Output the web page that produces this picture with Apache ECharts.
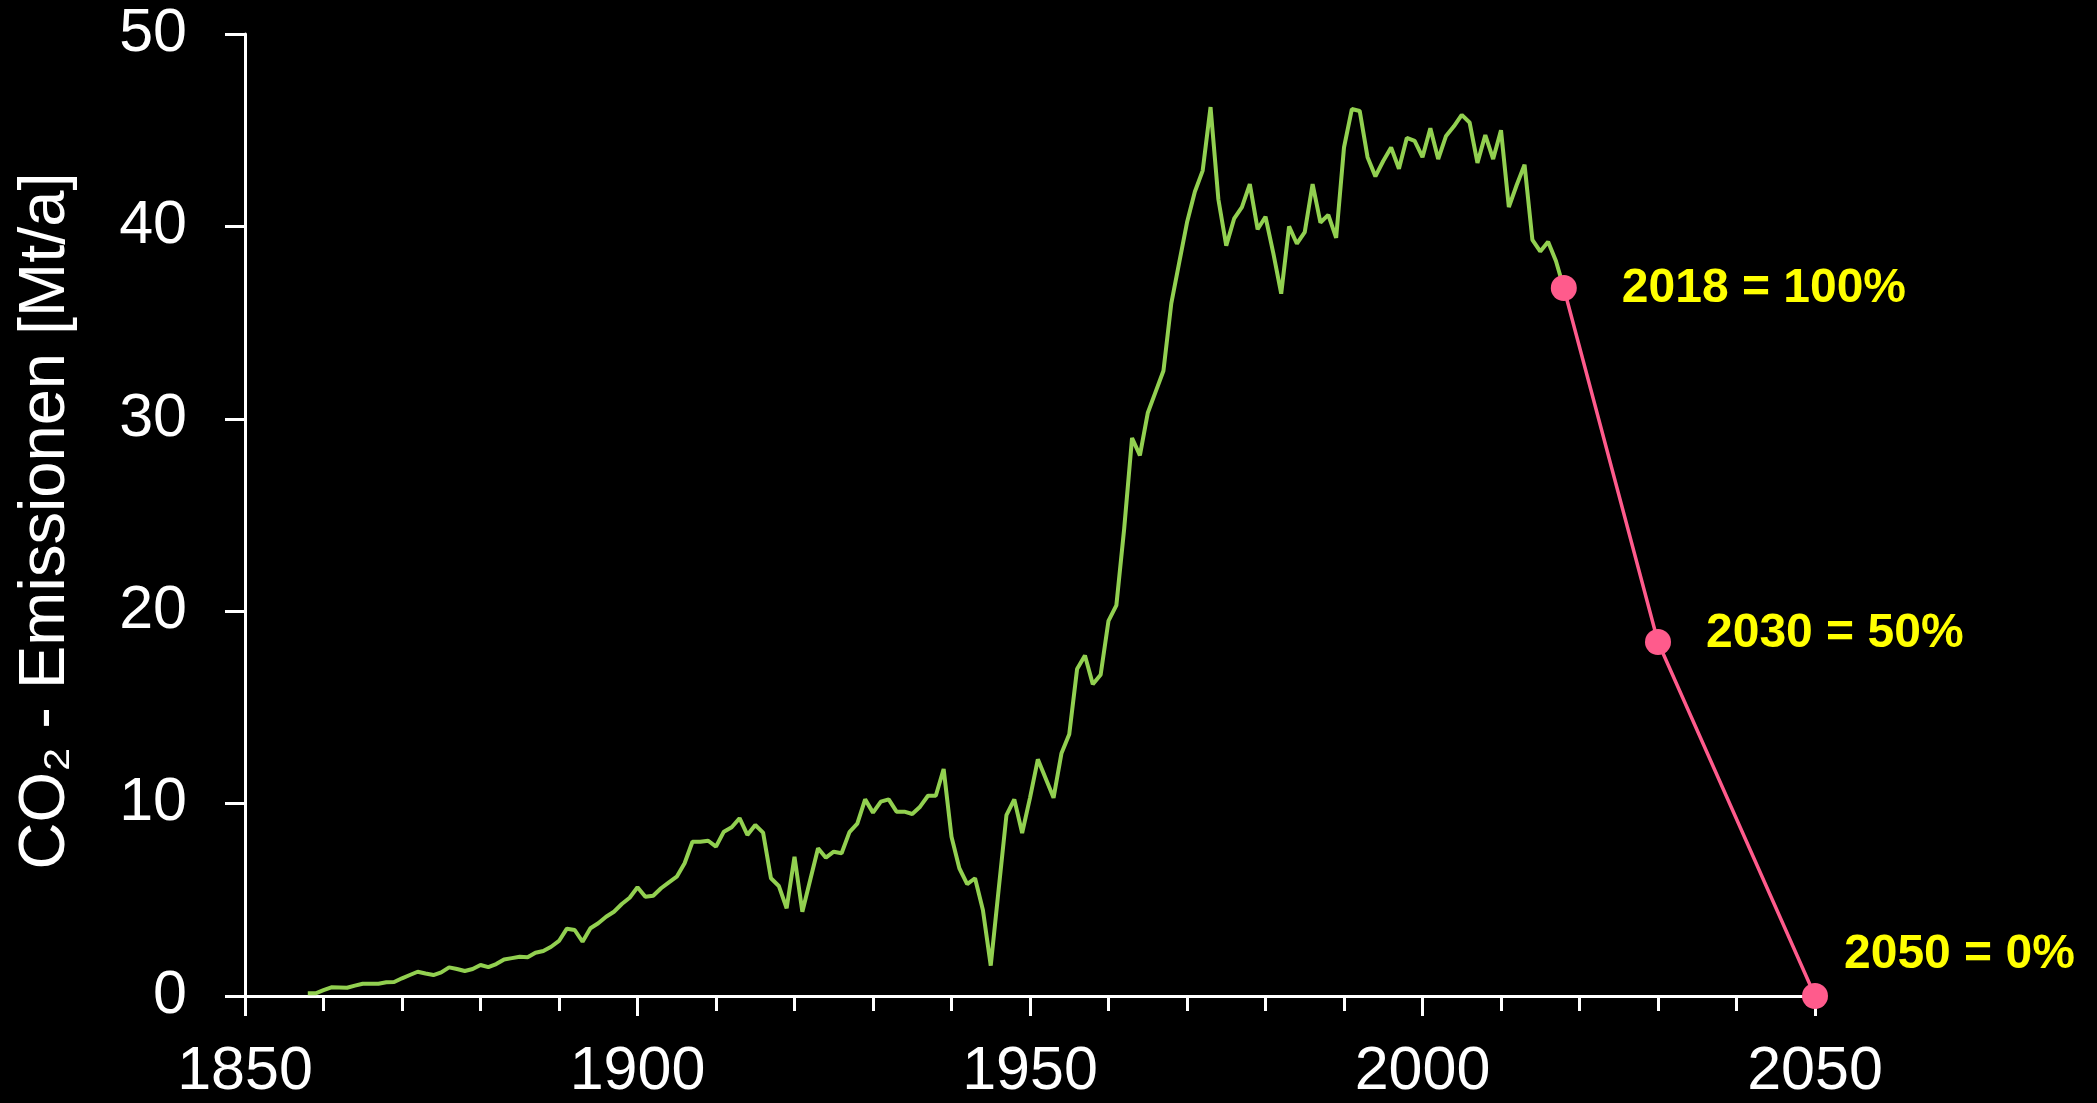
<!DOCTYPE html>
<html>
<head>
<meta charset="utf-8">
<script src="https://cdn.jsdelivr.net/npm/echarts@6/dist/echarts.min.js"></script>
<style>
html,body{margin:0;padding:0;background:#000;}
#chart{width:2097px;height:1103px;}
</style>
</head>
<body>
<div id="chart"></div>
<script>
// Historical emissions, yearly from 1858 to 2018 (Mt/a)
const histStartYear = 1858;
const histValues = [
  0.14, 0.14, 0.30, 0.45, 0.44, 0.43, 0.54, 0.64, 0.64, 0.64,   // 1858-1867
  0.71, 0.73, 0.92, 1.09, 1.26, 1.17, 1.09, 1.23, 1.49, 1.40,   // 1868-1877
  1.30, 1.40, 1.61, 1.50, 1.66, 1.90, 1.97, 2.04, 2.01, 2.25,   // 1878-1887
  2.34, 2.56, 2.86, 3.50, 3.43, 2.82, 3.52, 3.78, 4.12, 4.38,   // 1888-1897
  4.78, 5.11, 5.65, 5.16, 5.21, 5.60, 5.91, 6.20, 6.90, 8.02,   // 1898-1907
  8.02, 8.07, 7.76, 8.54, 8.77, 9.24, 8.37, 8.89, 8.49, 6.12,   // 1908-1917
  5.72, 4.56, 7.24, 4.38, 6.03, 7.68, 7.19, 7.50, 7.42, 8.52,   // 1918-1927
  8.96, 10.22, 9.53, 10.10, 10.22, 9.58, 9.58, 9.46, 9.84, 10.41, // 1928-1937
  10.41, 11.80, 8.28, 6.64, 5.82, 6.12, 4.47, 1.58, 5.51, 9.40, // 1938-1947
  10.22, 8.47, 10.30, 12.30, 11.30, 10.30, 12.60, 13.60, 17.00, 17.70, // 1948-1957
  16.20, 16.70, 19.50, 20.30, 24.30, 29.00, 28.10, 30.30, 31.40, 32.50, // 1958-1967
  36.00, 38.10, 40.20, 41.80, 42.90, 46.20, 41.40, 39.00, 40.40, 41.00, // 1968-1977
  42.20, 39.85, 40.50, 38.60, 36.50, 40.00, 39.10, 39.70, 42.20, 40.20, // 1978-1987
  40.60, 39.40, 44.10, 46.10, 46.00, 43.60, 42.60, 43.40, 44.10, 43.00, // 1988-1997
  44.60, 44.45, 43.60, 45.10, 43.50, 44.70, 45.20, 45.80, 45.40, 43.30, // 1998-2007
  44.75, 43.50, 45.00, 41.00, 42.15, 43.20, 39.30, 38.70, 39.20, 38.20, // 2008-2017
  36.80                                                          // 2018
];

// Reduction path
const targetYears = [2018, 2030, 2050];
const targetValues = [36.8, 18.4, 0];
const targetLabels = ['2018 = 100%', '2030 = 50%', '2050 = 0%'];

// Axes
const xTicks = [1850, 1900, 1950, 2000, 2050];
const yTicks = [0, 10, 20, 30, 40, 50];
const yAxisTitle = 'CO\u2082 - Emissionen [Mt/a]';

const histData = histValues.map((v, i) => [histStartYear + i, v]);
const labelOffsets = [[45, 1], [35, -8], [16, -41]];
const targetData = targetYears.map((y, i) => ({
  value: [y, targetValues[i]],
  label: {
    show: true,
    formatter: targetLabels[i],
    position: 'right',
    distance: 0,
    offset: labelOffsets[i]
  }
}));

const FONT = '"Liberation Sans", Arial, Helvetica, sans-serif';
const chart = echarts.init(document.getElementById('chart'), null, {renderer: 'canvas'});
chart.setOption({
  backgroundColor: '#000000',
  animation: false,
  grid: {left: 245, right: 282, top: 34, bottom: 107, containLabel: false},
  xAxis: {
    type: 'value',
    min: xTicks[0],
    max: xTicks[xTicks.length - 1],
    interval: 50,
    axisLine: {show: true, onZero: false, lineStyle: {color: '#ffffff', width: 3}},
    axisTick: {show: true, inside: false, length: 20, lineStyle: {color: '#ffffff', width: 3}},
    minorTick: {show: true, splitNumber: 5, length: 15, lineStyle: {color: '#ffffff', width: 3}},
    splitLine: {show: false},
    minorSplitLine: {show: false},
    axisLabel: {
      color: '#ffffff', fontSize: 61, fontFamily: FONT, margin: 46,
      formatter: v => String(v)
    }
  },
  yAxis: {
    type: 'value',
    min: yTicks[0],
    max: yTicks[yTicks.length - 1],
    interval: 10,
    name: yAxisTitle,
    nameLocation: 'middle',
    nameGap: 166,
    nameRotate: 90,
    nameTextStyle: {color: '#ffffff', fontSize: 65, fontFamily: FONT, padding: [0, 12, 0, 0]},
    axisLine: {show: true, lineStyle: {color: '#ffffff', width: 3}},
    axisTick: {show: true, inside: false, length: 20, lineStyle: {color: '#ffffff', width: 3}},
    splitLine: {show: false},
    axisLabel: {color: '#ffffff', fontSize: 61, fontFamily: FONT, margin: 58}
  },
  series: [
    {
      type: 'line',
      data: histData,
      showSymbol: false,
      symbol: 'none',
      clip: false,
      lineStyle: {color: '#92D050', width: 4},
      z: 3
    },
    {
      type: 'line',
      data: targetData,
      symbol: 'circle',
      symbolSize: 26,
      clip: false,
      itemStyle: {color: '#FF5B8C'},
      lineStyle: {color: '#FF5B8C', width: 3.5},
      label: {color: '#FFFF00', fontSize: 48, fontWeight: 'bold', fontFamily: FONT},
      z: 4
    }
  ]
});
</script>
</body>
</html>
